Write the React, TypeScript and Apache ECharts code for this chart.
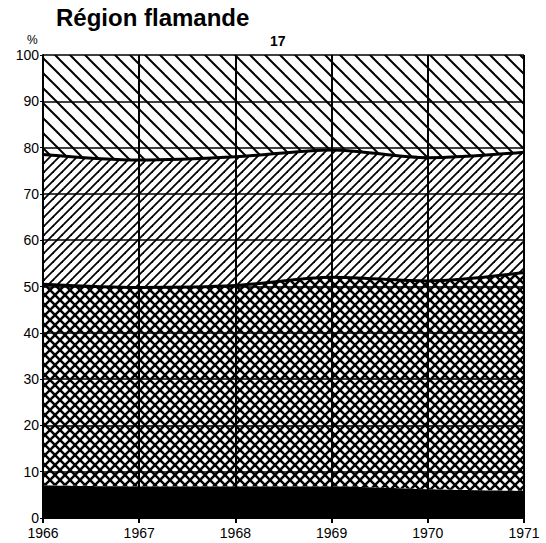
import React, { useEffect, useRef } from "react";
import * as echarts from "echarts";

const years = ["1966", "1967", "1968", "1969", "1970", "1971"];
// shares (%) stacked from bottom to top
const solidShare = [7.0, 6.8, 6.8, 6.8, 6.2, 5.8];
const crossShare = [43.5, 43.0, 43.4, 45.2, 45.0, 47.2];
const slashShare = [28.0, 27.5, 27.8, 27.5, 26.6, 26.0];
const backShare = [21.5, 22.7, 22.0, 20.5, 22.2, 21.0];
const yTicks = [0, 10, 20, 30, 40, 50, 60, 70, 80, 90, 100];

function makeTile(size: number, kind: "slash" | "back" | "cross", lw: number) {
  const c = document.createElement("canvas");
  c.width = size;
  c.height = size;
  const ctx = c.getContext("2d")!;
  ctx.strokeStyle = "#000";
  ctx.lineWidth = lw;
  ctx.lineCap = "square";
  const drawSlash = () => {
    for (const k of [-size, 0, size]) {
      ctx.beginPath();
      ctx.moveTo(k - 2, size + 2);
      ctx.lineTo(k + size + 2, -2);
      ctx.stroke();
    }
  };
  const drawBack = () => {
    for (const k of [-size, 0, size]) {
      ctx.beginPath();
      ctx.moveTo(k - 2, -2);
      ctx.lineTo(k + size + 2, size + 2);
      ctx.stroke();
    }
  };
  if (kind === "slash") drawSlash();
  else if (kind === "back") drawBack();
  else {
    drawSlash();
    drawBack();
  }
  return { image: c.toDataURL(), repeat: "repeat", imageWidth: size, imageHeight: size };
}

export default function App() {
  const ref = useRef<HTMLDivElement>(null);
  useEffect(() => {
    if (!ref.current) return;
    const chart = echarts.init(ref.current, null, { renderer: "svg" });
    const font = "'Liberation Sans', Arial, Helvetica, sans-serif";
    const backPat = makeTile(15, "back", 2);
    const slashPat = makeTile(9, "slash", 1.8);
    const crossPat = makeTile(10, "cross", 2.5);
    const mk = (name: string, data: number[], color: any, lineW: number) => ({
      name,
      type: "line",
      stack: "total",
      smooth: 0.3,
      symbol: "none",
      data,
      lineStyle: { width: lineW, color: "#000" },
      areaStyle: { color, opacity: 1 },
    });
    chart.setOption({
      animation: false,
      backgroundColor: "#fff",
      grid: { left: 43, top: 55, width: 481, height: 463, containLabel: false },
      graphic: [
        {
          type: "text",
          left: 56,
          top: 5,
          style: { text: "Région flamande", font: `bold 24px ${font}`, fill: "#000" },
        },
        {
          type: "text",
          left: 27,
          top: 34,
          style: { text: "%", font: `12px ${font}`, fill: "#000" },
        },
        {
          type: "text",
          left: 270,
          top: 34,
          style: { text: "17", font: `bold 14px ${font}`, fill: "#000" },
        },
      ],
      xAxis: {
        type: "category",
        data: years,
        boundaryGap: false,
        axisLine: { lineStyle: { color: "#000", width: 2 } },
        axisTick: { show: true, length: 5, lineStyle: { color: "#000", width: 2 } },
        axisLabel: { color: "#000", fontSize: 14, fontFamily: font, margin: 8 },
        splitLine: { show: true, lineStyle: { color: "#000", width: 2 } },
      },
      yAxis: {
        type: "value",
        min: 0,
        max: 100,
        interval: 10,
        axisLine: { show: true, lineStyle: { color: "#000", width: 2 } },
        axisTick: { show: true, length: 3, lineStyle: { color: "#000", width: 1 } },
        axisLabel: {
          color: "#000",
          fontSize: 14,
          fontFamily: font,
          margin: 4,
          formatter: (v: number) => (yTicks.includes(v) ? String(v) : ""),
        },
        splitLine: { show: true, lineStyle: { color: "#000", width: 1.5 } },
      },
      series: [
        mk("A", solidShare, "#000", 0),
        mk("B", crossShare, crossPat, 3),
        mk("C", slashShare, slashPat, 3),
        mk("D", backShare, backPat, 0),
      ],
    });
    return () => chart.dispose();
  }, []);
  return (
    <div
      ref={ref}
      style={{ position: "absolute", left: 0, top: 0, width: 546, height: 543 }}
    />
  );
}
